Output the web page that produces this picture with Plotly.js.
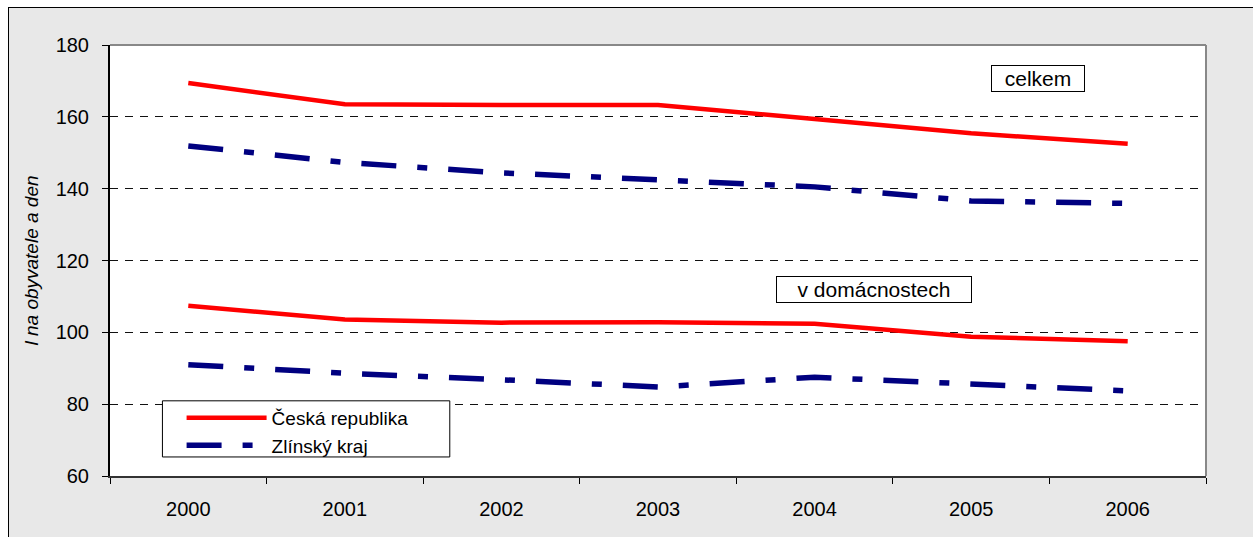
<!DOCTYPE html>
<html><head><meta charset="utf-8">
<script src="https://cdn.plot.ly/plotly-3.0.1.min.js"></script>
<style>
html,body{margin:0;padding:0;background:#fff;width:1253px;height:537px;overflow:hidden}
#wrap{position:absolute;left:8px;top:7px;width:1244px;height:530px;border-left:1px solid #000;border-top:1px solid #000;border-right:1px solid #000;background:#e8e8e8}
#chart{width:1244px;height:530px}
</style></head><body>
<div id="wrap"><div id="chart"></div></div>
<script>
const years = ['2000','2001','2002','2003','2004','2005','2006'];
const crCelkem = [169.4, 163.5, 163.3, 163.3, 159.4, 155.4, 152.5];
const zlCelkem = [151.9, 147.3, 144.4, 142.6, 140.5, 136.6, 135.9];
const crDomac = [107.4, 103.6, 102.7, 102.8, 102.4, 98.8, 97.5];
const zlDomac = [91.0, 88.6, 86.8, 84.8, 87.5, 85.7, 83.7];
const seriesNames = ['Česká republika', 'Zlínský kraj'];
const yTicks = [60, 80, 100, 120, 140, 160, 180];
const yTitle = 'l na obyvatele a den';
const notes = ['celkem', 'v domácnostech'];

const red = '#ff0000', navy = '#000080';
const zdash = '35px,21px,10px,21px';
const traces = [
  {x: years, y: crCelkem, name: seriesNames[0], mode: 'lines', line: {color: red, width: 4.5}, legendgroup: 'cr'},
  {x: years, y: zlCelkem, name: seriesNames[1], mode: 'lines', line: {color: navy, width: 5.5, dash: zdash}, legendgroup: 'zl'},
  {x: years, y: crDomac, name: seriesNames[0], mode: 'lines', line: {color: red, width: 4.5}, showlegend: false, legendgroup: 'cr'},
  {x: years, y: zlDomac, name: seriesNames[1], mode: 'lines', line: {color: navy, width: 5.5, dash: zdash}, showlegend: false, legendgroup: 'zl'}
];
const font = {family: 'Liberation Sans, Arial, sans-serif', color: '#000'};
const px = v => (v - 110) / 1087;
const py = v => (475 - v) / 430;
const layout = {
  width: 1244, height: 530,
  margin: {l: 101, r: 47, t: 37, b: 62},
  paper_bgcolor: '#e8e8e8', plot_bgcolor: '#ffffff',
  font: Object.assign({size: 20}, font),
  showlegend: true,
  legend: {x: px(181), y: py(398), xanchor: 'left', yanchor: 'top', bgcolor: 'rgba(0,0,0,0)', borderwidth: 0,
    font: Object.assign({size: 19}, font), itemwidth: 80, tracegroupgap: 0, traceorder: 'normal'},
  xaxis: {type: 'category', tickson: 'boundaries', ticks: 'outside', ticklen: 6, tickcolor: '#000',
    showline: true, linecolor: '#333', linewidth: 2, showgrid: false, zeroline: false, ticklabelstandoff: 14,
    range: [-0.5, 6.5], tickfont: Object.assign({size: 20}, font), automargin: false},
  yaxis: {range: [60, 180], tickvals: yTicks, ticks: 'outside', ticklen: 6, tickcolor: '#000',
    showline: true, linecolor: '#000', linewidth: 2, showgrid: true, gridcolor: '#111', griddash: '8px,7px', gridwidth: 1,
    zeroline: false, tickfont: Object.assign({size: 20}, font), ticklabelstandoff: 9,
    title: {text: yTitle, font: Object.assign({size: 19, style: 'italic'}, font), standoff: 12}, automargin: false},
  shapes: [
    {type: 'line', xref: 'paper', yref: 'paper', x0: 0, x1: 1, y0: 1, y1: 1, line: {color: '#888', width: 2}},
    {type: 'line', xref: 'paper', yref: 'paper', x0: 1, x1: 1, y0: 0, y1: 1, line: {color: '#888', width: 2}},
    {type: 'rect', xref: 'paper', yref: 'paper', x0: px(162), x1: px(447), y0: py(456), y1: py(400),
      fillcolor: '#fff', line: {color: '#000', width: 1}, layer: 'above'}
  ],
  annotations: [
    {text: notes[0], xref: 'paper', yref: 'paper', x: px(1030), y: py(78.5), xanchor: 'center', yanchor: 'middle', showarrow: false,
      font: Object.assign({size: 21}, font), bgcolor: '#fff', bordercolor: '#000', borderwidth: 1, borderpad: 2, width: 88, height: 21},
    {text: notes[1], xref: 'paper', yref: 'paper', x: px(868), y: py(288.5), xanchor: 'center', yanchor: 'middle', showarrow: false,
      font: Object.assign({size: 21}, font), bgcolor: '#fff', bordercolor: '#000', borderwidth: 1, borderpad: 2, width: 190, height: 21}
  ]
};
Plotly.newPlot('chart', traces, layout, {displayModeBar: false, staticPlot: true});
</script></body></html>
